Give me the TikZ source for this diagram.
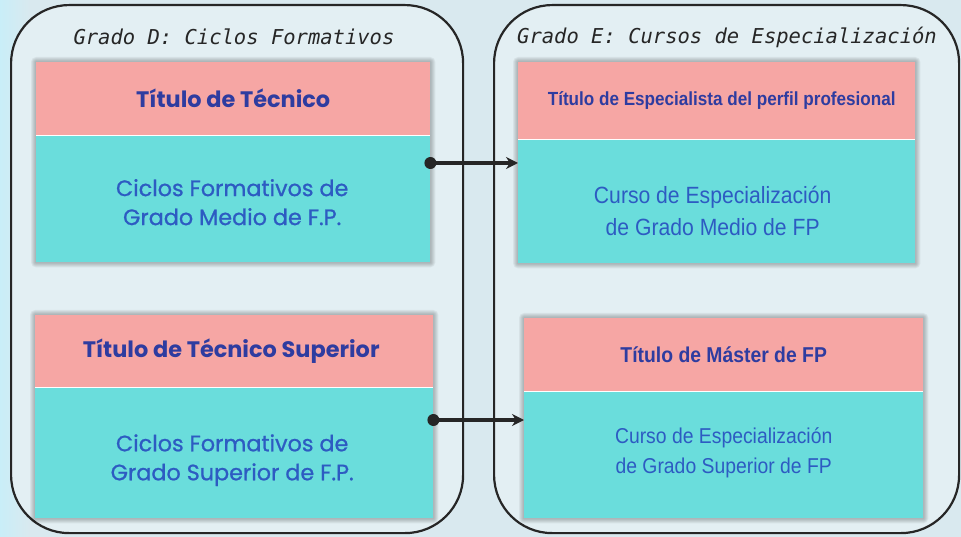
\documentclass[tikz,border=0pt]{standalone}
\usepackage{fontspec}
\newfontfamily\monofam{DejaVu Sans Mono}
\newfontfamily\popfam{Poppins}
\newfontfamily\popmfam[FakeBold=0.9]{Poppins}
\newfontfamily\arialfam[FakeStretch=0.9]{Liberation Sans}
\usetikzlibrary{arrows.meta}
\pgfdeclarelayer{bglayer}
\pgfdeclarelayer{shadowlayer}
\pgfsetlayers{bglayer,shadowlayer,main}
\definecolor{bgc}{HTML}{D9E9EF}
\definecolor{bgtint}{HTML}{C9EEF8}
\definecolor{framefill}{HTML}{E3EFF3}
\definecolor{pinkc}{HTML}{F6A6A4}
\definecolor{cyanc}{HTML}{6ADDDC}
\definecolor{hdtext}{HTML}{2E3CA0}
\definecolor{bdtext}{HTML}{2D5BC2}
\definecolor{linec}{HTML}{262626}
\newcommand\myshadow[2]{%
  \foreach \s in {1,2,3,4,5}{%
    \fill[black,opacity=0.05,rounded corners=\s pt] ([shift={(-\s,-\s)}]#1) rectangle ([shift={(\s,\s)}]#2);}}
\tikzset{
  frame/.style={draw=linec, line width=2.2pt, rounded corners=58pt, fill=framefill, inner sep=0pt, anchor=north west},
  hdr/.style={fill=pinkc, inner sep=0pt, anchor=north west, align=center},
  body/.style={fill=cyanc, inner sep=0pt, anchor=north west},
  ttl/.style={font=\monofam\itshape\fontsize{20.5}{24}\selectfont, text=black!85},
  lhdr/.style={font=\popfam\bfseries\fontsize{22.4}{26}\selectfont, text=hdtext},
  ltxt/.style={font=\popmfam\fontsize{22.3}{29}\selectfont, text=bdtext, align=center},
  rhdr/.style={font=\arialfam\bfseries\fontsize{19}{24}\selectfont, text=hdtext},
  rtxt/.style={font=\arialfam\fontsize{23.5}{32}\selectfont, text=bdtext, align=center},
  conn/.style={draw=linec, line width=3.6pt, -{Stealth[length=12pt,width=12pt]}},
  dot/.style={fill=linec}
}
\begin{document}
\begin{tikzpicture}[x=1pt,y=-1pt]
\useasboundingbox (0,0) rectangle (961,537);
\begin{pgfonlayer}{bglayer}
\fill[bgc] (0,0) rectangle (961,537);
\shade[left color=bgtint, right color=bgc] (0,0) rectangle (30,537);
\end{pgfonlayer}
% frames
\begin{pgfonlayer}{bglayer}
\node[frame, minimum width=452pt, minimum height=528pt] (FD) at (10,4) {};
\node[frame, minimum width=465pt, minimum height=528pt] (FE) at (493,4) {};
\end{pgfonlayer}
% titles
\node[ttl] (TD) at (234,37) {Grado D: Ciclos Formativos};
\node[ttl] (TE) at (727,37) {Grado E: Cursos de Especialización};
% boxes
\node[hdr, minimum width=394pt, minimum height=73pt, lhdr] (LTH) at (36,62) {Título de Técnico};
\node[body, minimum width=394pt, minimum height=127pt] (LTB) at (36,135) {};
\node[hdr, minimum width=398pt, minimum height=72pt, lhdr] (LBH) at (35,315) {\hspace*{-6pt}Título de Técnico Superior};
\node[body, minimum width=398pt, minimum height=131pt] (LBB) at (35,387) {};
\node[hdr, minimum width=397pt, minimum height=77pt, rhdr] (RTH) at (518,62) {\hspace*{10pt}Título de Especialista del perfil profesional};
\node[body, minimum width=397pt, minimum height=124pt] (RTB) at (518,139) {};
\node[hdr, minimum width=399pt, minimum height=73pt, rhdr, font=\arialfam\bfseries\fontsize{21.5}{26}\selectfont] (RBH) at (524,318) {Título de Máster de FP};
\node[body, minimum width=399pt, minimum height=127pt] (RBB) at (524,391) {};
% shadows
\begin{pgfonlayer}{shadowlayer}
\myshadow{LTH.north west}{LTB.south east}
\myshadow{LBH.north west}{LBB.south east}
\myshadow{RTH.north west}{RTB.south east}
\myshadow{RBH.north west}{RBB.south east}
\end{pgfonlayer}
% body texts
\node[ltxt] (LTBt) at ([shift={(-1,3.5)}]LTB.center) {Ciclos Formativos de\\Grado Medio de F.P.};
\node[ltxt] (LBBt) at ([shift={(-2,7.5)}]LBB.center) {Ciclos Formativos de\\Grado Superior de F.P.};
\node[rtxt] (RTBt) at ([shift={(-4,10)}]RTB.center) {Curso de Especialización\\de Grado Medio de FP};
\node[rtxt, font=\arialfam\fontsize{21.5}{30}\selectfont] (RBBt) at ([shift={(0,-1.5)}]RBB.center) {Curso de Especialización\\de Grado Superior de FP};
% separators
\draw[white, line width=1.5pt] (LTH.south west) -- (LTH.south east);
\draw[white, line width=1.5pt] (LBH.south west) -- (LBH.south east);
\draw[white, line width=1.5pt] (RTH.south west) -- (RTH.south east);
\draw[white, line width=1.5pt] (RBH.south west) -- (RBH.south east);
% connectors
\fill[dot] ([yshift=-28pt]LTB.north east) circle (6pt);
\draw[conn] ([yshift=-28pt]LTB.north east) -- ([yshift=-24pt]RTB.north west);
\fill[dot] ([yshift=-33pt]LBB.north east) circle (6pt);
\draw[conn] ([yshift=-33pt]LBB.north east) -- ([yshift=-29pt]RBB.north west);
\end{tikzpicture}
\end{document}
